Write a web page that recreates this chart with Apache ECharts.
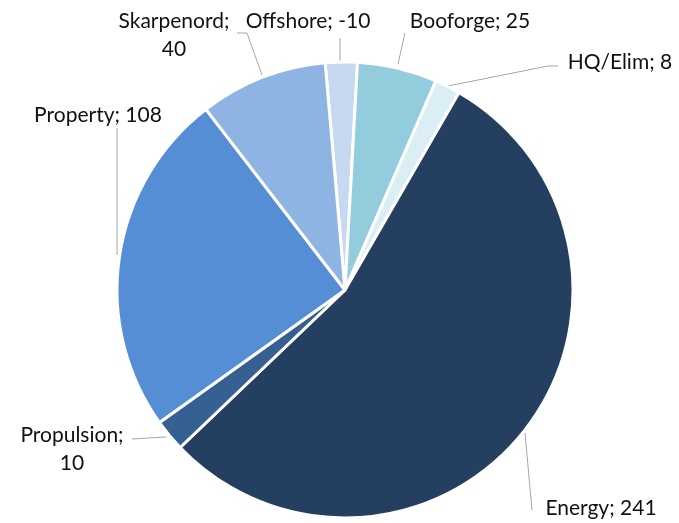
<!DOCTYPE html>
<html>
<head>
<meta charset="utf-8">
<script src="https://cdn.jsdelivr.net/npm/echarts@6/dist/echarts.min.js"></script>
<style>
  html, body { margin: 0; padding: 0; background: #fff; }
  #main { width: 679px; height: 523px; }
</style>
</head>
<body>
<div id="main"></div>
<script>
// data (clockwise from the top)
var names = ['Offshore', 'Booforge', 'HQ/Elim', 'Energy', 'Propulsion', 'Property', 'Skarpenord'];
var values = [-10, 25, 8, 241, 10, 108, 40];
var colors = ['#c6d9f1', '#93cddd', '#dbeef4', '#253f60', '#376092', '#558ed5', '#8eb4e3'];

// label spots, same order as names
var labelSpots = [
  { x: 308, y: 21, line: [[340, 62], [340, 38]] },
  { x: 470, y: 21, line: [[398, 64], [405, 33]] },
  { x: 620, y: 62, line: [[448, 86], [548, 66], [558, 66]] },
  { x: 601, y: 508, line: [[525, 433], [532, 510]] },
  { x: 72, y: 449, line: [[166, 437], [132, 439]] },
  { x: 98, y: 115, line: [[117, 255], [117, 128]] },
  { x: 174, y: 35, line: [[262, 75], [247, 33], [237, 33]] }
];
var wrapped = { 'Propulsion': 1, 'Skarpenord': 1 };

var chart = echarts.init(document.getElementById('main'));

var pieData = names.map(function (n, i) {
  return { name: n, value: Math.abs(values[i]), itemStyle: { color: colors[i] } };
});

chart.setOption({
  animation: false,
  series: [{
    type: 'pie',
    center: [345, 290],
    radius: 228,
    startAngle: 95,
    clockwise: true,
    data: pieData,
    itemStyle: { borderColor: '#ffffff', borderWidth: 3 },
    label: {
      show: true,
      position: 'outside',
      fontFamily: 'Lato',
      fontSize: 21,
      color: '#111111',
      lineHeight: 28,
      align: 'center',
      overflow: 'none',
      formatter: function (p) {
        var sep = wrapped[p.name] ? ';\n' : '; ';
        return p.name + sep + values[p.dataIndex];
      }
    },
    labelLine: {
      show: true,
      lineStyle: { color: '#a6a6a6', width: 1 }
    },
    labelLayout: function (p) {
      var s = labelSpots[p.dataIndex];
      return {
        x: s.x,
        y: s.y,
        align: 'center',
        verticalAlign: 'middle',
        labelLinePoints: s.line
      };
    }
  }]
});
</script>
</body>
</html>
